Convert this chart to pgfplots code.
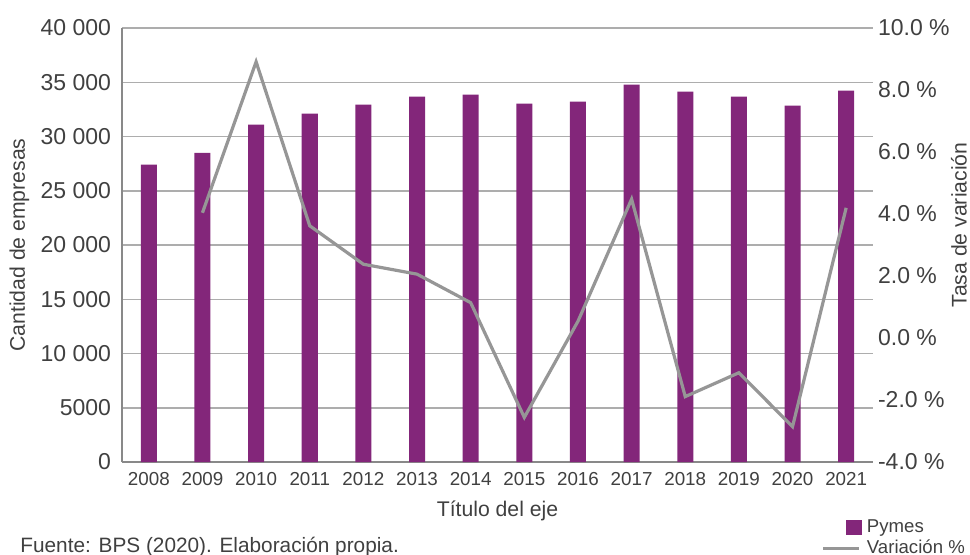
\documentclass[border=0pt]{standalone}
\usepackage{fontspec}
\setmainfont{Liberation Sans}
\usepackage{pgfplots}
\pgfplotsset{compat=1.18}
\definecolor{pymes}{HTML}{83267A}
\definecolor{varline}{HTML}{969696}
\definecolor{gridc}{HTML}{ADADAD}
\definecolor{axisc}{HTML}{898989}
\definecolor{txt}{HTML}{404040}
\begin{document}
\begin{tikzpicture}[x=1pt,y=1pt]
\pgfplotsset{common/.style={at={(61pt,-231pt)}, anchor=south west, scale only axis,
  width=375.5pt, height=217pt, xmin=-0.5, xmax=13.5,
  major tick length=0pt, tick style={draw=none}}}
\begin{axis}[common,
  ymin=0, ymax=40000, scaled y ticks=false,
  ytick={0,5000,10000,15000,20000,25000,30000,35000,40000},
  yticklabels={0,5000,10 000,15 000,20 000,25 000,30 000,35 000,40 000},
  xtick={0,...,13},
  xticklabels={2008,2009,2010,2011,2012,2013,2014,2015,2016,2017,2018,2019,2020,2021},
  axis x line*=bottom, axis y line*=left,
  axis line style={-, draw=axisc, line width=0.75pt},
  ymajorgrids, grid style={draw=gridc, line width=0.75pt},
  yticklabel style={font=\fontsize{11.5}{13}\selectfont, text=txt, xshift=-2pt},
  xticklabel style={font=\fontsize{9.4}{11}\selectfont, text=txt, anchor=base, yshift=-11.5pt},
  xlabel={Título del eje},
  every axis x label/.style={at={(axis description cs:0.5,-0.1256)}, anchor=base,
    font=\fontsize{10.6}{12}\selectfont, text=txt},
  ylabel={Cantidad de empresas},
  every axis y label/.style={at={(axis description cs:-0.1365,0.5)}, anchor=center, rotate=90,
    font=\fontsize{10.6}{12}\selectfont, text=txt},
]
\addplot[ybar, bar width=8pt, fill=pymes, draw=none] coordinates {
(0,27400) (1,28500) (2,31100) (3,32100) (4,32930) (5,33670) (6,33860)
(7,33030) (8,33210) (9,34780) (10,34130) (11,33670) (12,32840) (13,34230)};
\end{axis}
\begin{axis}[common,
  ymin=-4, ymax=10,
  ytick={-4,-2,0,2,4,6,8,10},
  yticklabels={-4.0 \%,-2.0 \%,0.0 \%,2.0 \%,4.0 \%,6.0 \%,8.0 \%,10.0 \%},
  axis y line*=right, axis x line=none, axis line style={draw=none},
  yticklabel style={font=\fontsize{11.5}{13}\selectfont, text=txt, xshift=-1pt},
  ylabel={Tasa de variación},
  every axis y label/.style={at={(axis description cs:1.1145,0.546)}, anchor=center, rotate=90,
    font=\fontsize{10.6}{12}\selectfont, text=txt},
  legend style={at={(axis description cs:0.9315,-0.174)}, anchor=west, draw=none, fill=none,
    inner sep=0pt, row sep=0pt, column sep=0pt,
    font=\fontsize{9.3}{11}\selectfont, text=txt,
    nodes={inner sep=0.75pt, text height=7pt, text depth=2pt}},
  legend cell align=left,
]
\addlegendimage{legend image code/.code={\path[draw=none,fill=none] (0pt,-3.75pt) rectangle (21pt,3.75pt);
  \fill[pymes, draw=none] (11.5pt,-3.75pt) rectangle (19.5pt,3.75pt);}}
\addlegendentry{Pymes}
\addplot[varline, line width=1.6pt,
  legend image code/.code={\path[draw=none,fill=none] (0pt,-3.75pt) rectangle (21pt,3.75pt);
  \draw[varline, line width=1.5pt] (0pt,0pt) -- (18pt,0pt);}] coordinates {
(1,4.04) (2,8.91) (3,3.62) (4,2.38) (5,2.06) (6,1.14) (7,-2.56)
(8,0.54) (9,4.48) (10,-1.89) (11,-1.12) (12,-2.86) (13,4.20)};
\addlegendentry{Variación \%}
\end{axis}
\node[anchor=base west, inner sep=0pt, font=\fontsize{10.4}{12}\selectfont, text=txt]
  at (10pt,-276pt) {Fuente: BPS (2020). Elaboración propia.};
\pgfresetboundingbox
\path[use as bounding box] (0pt,0pt) rectangle (485pt,-277pt);
\end{tikzpicture}
\end{document}
